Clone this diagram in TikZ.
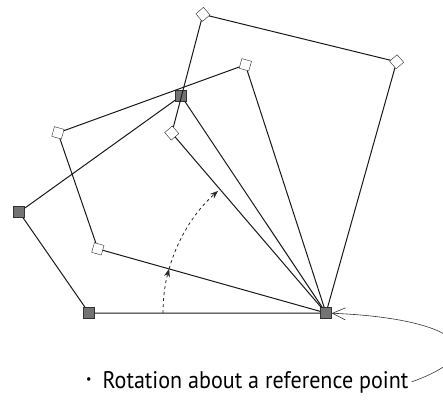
\documentclass[tikz,border=0pt]{standalone}
\usepackage{fontspec}
\newfontfamily\notefont[FakeStretch=0.92]{PT Sans}
\usetikzlibrary{arrows.meta}

\tikzset{
  fixedpt/.style={draw=black!80, fill=black!55, minimum size=11pt, inner sep=0pt},
  movedpt/.style={draw=black!85, fill=white, minimum size=10pt, inner sep=0pt},
  edge/.style={draw=black!90, line width=1pt},
  turn/.style={draw=black!85, line width=0.8pt, dashed, -{Stealth[length=8pt, width=6pt]}},
  callout/.style={draw=black!80, line width=0.6pt, -{Straight Barb[length=13pt, width=12pt]}},
}

\begin{document}
\begin{tikzpicture}[x=1pt, y=-1pt]
  \useasboundingbox (0,0) rectangle (443,399);

  % Reference point, the shape turns about it
  \node[fixedpt] (p) at (326,313) {};

  % Original shape (filled) and two rotated copies (hollow)
  \foreach \rot/\i/\pt in {0/0/fixedpt, 15.7/1/movedpt, 49.4/2/movedpt} {
    \node[\pt, rotate=-\rot] (a\i) at ([shift={(180+\rot:237)}]p) {};
    \node[\pt, rotate=-\rot] (b\i) at ([shift={(198.2+\rot:323)}]p) {};
    \node[\pt, rotate=-\rot] (c\i) at ([shift={(236.3+\rot:261)}]p) {};
    \draw[edge] (p) -- (a\i) -- (b\i) -- (c\i) -- (p);
  }

  % Dashed arc showing the turning angle
  \coordinate (s0) at ([shift={(180:163)}]p);
  \draw[turn] (s0) arc (180:195.7:163) coordinate (s1);
  \draw[turn] (s1) arc (195.7:228.5:163);

  % Caption with its pointer back to the reference point
  \node[anchor=base west, inner sep=0pt, font=\notefont\fontsize{24}{28}\selectfont]
    (note) at (86,388) {\raisebox{5pt}{\fontsize{13}{13}\selectfont\textbullet}\hspace{11pt}Rotation about a reference point};
  \draw[callout] ([xshift=3pt]note.east) .. controls (500,350) and (450,318) .. (p);
\end{tikzpicture}
\end{document}
